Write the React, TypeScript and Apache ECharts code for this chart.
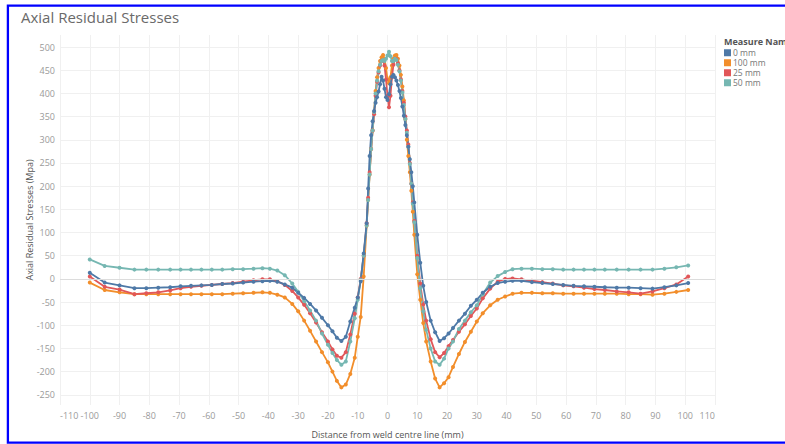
import { useEffect, useRef } from "react";
import * as echarts from "echarts";

const FONT = "'Open Sans', 'Noto Sans', sans-serif";

const X = [
  -100, -95, -90, -85, -81, -77, -73, -69.5, -66, -62.5, -59, -55.5, -52, -48.5, -45, -42, -39.5, -37, -34.5, -32, -30, -28, -26, -24, -22, -20, -18.5, -17, -15.5, -14, -12.5, -11, -10, -9, -8,
  -7, -6.5, -6, -5.5, -5, -4.5, -4, -3.5, -3, -2.5, -2, -1.5, -1, -0.5, 0, 0.5, 1, 1.5, 2, 2.5, 3, 3.5, 4, 4.5, 5, 5.5, 6, 6.5, 7, 7.5, 8, 8.5, 9,
  10, 11, 12, 13, 14.5, 16, 17.5, 19, 20.5, 22, 24, 26, 28, 30, 32, 34.5, 37, 39.5, 42, 45, 48.5, 52, 55.5, 59, 62.5, 66, 69.5, 73, 77, 81, 85, 89, 93, 97, 101,
];

const MM0 = [
  13, -8, -14, -20, -20, -19, -18, -16, -15, -14, -13, -11, -10, -8, -6, -5, -4, -6, -12, -19, -30, -41, -54, -68, -84, -100, -113, -127, -134, -125, -92, -62, -40, -5, 55,
  120, 195, 265, 310, 340, 362, 380, 392, 404, 420, 436, 428, 410, 392, 386, 398, 420, 436, 440, 435, 428, 418, 405, 390, 372, 352, 332, 310, 285, 258, 230, 200, 165,
  95, 35, -15, -50, -90, -115, -134, -128, -118, -106, -90, -75, -58, -45, -30, -17, -9, -6, -4, -4, -7, -9, -11, -13, -15, -16, -17, -18, -19, -19, -20, -21, -18, -14, -9,
];

const MM100 = [
  -8, -24, -29, -33, -33, -33, -33, -33, -33, -33, -33, -33, -32, -31, -30, -29, -30, -34, -40, -54, -70, -90, -112, -135, -158, -180, -200, -220, -234, -228, -205, -170, -125, -82, 5,
  115, 170, 225, 280, 320, 360, 405, 435, 455, 470, 478, 483, 475, 455, 430, 422, 435, 460, 475, 482, 483, 475, 460, 440, 415, 385, 345, 300, 265, 230, 190, 145, 95,
  10, -45, -95, -135, -178, -215, -234, -225, -212, -190, -162, -136, -114, -92, -74, -57, -45, -38, -32, -30, -30, -31, -31, -32, -32, -32, -32, -32, -32, -33, -33, -34, -32, -28, -24,
];

const MM25 = [
  5, -17, -23, -33, -31, -29, -25, -20, -17, -15, -13, -11, -9, -6, -3, -1, -1, -5, -13, -26, -40, -56, -74, -94, -115, -135, -152, -166, -170, -158, -120, -75, -40, 0, 50,
  120, 175, 230, 280, 320, 355, 395, 425, 445, 460, 470, 472, 460, 430, 395, 370, 395, 435, 462, 475, 474, 465, 450, 430, 405, 380, 350, 320, 290, 250, 205, 165, 125,
  50, -10, -55, -90, -130, -158, -169, -160, -145, -132, -114, -98, -80, -64, -42, -21, -6, 0, 1, -1, -4, -7, -10, -14, -16, -19, -22, -24, -27, -29, -32, -27, -20, -12, 5,
];

const MM50 = [
  42, 28, 24, 20, 20, 20, 20, 20, 20, 20, 20, 20, 21, 21, 22, 23, 22, 18, 8, -10, -28, -48, -68, -90, -118, -142, -160, -175, -185, -178, -135, -85, -45, -2, 50,
  115, 170, 225, 280, 320, 360, 400, 428, 448, 462, 470, 472, 470, 475, 482, 490, 480, 470, 470, 475, 472, 462, 448, 428, 402, 375, 345, 315, 285, 248, 205, 162, 122,
  45, -20, -70, -110, -150, -178, -185, -172, -150, -135, -108, -90, -72, -57, -33, -8, 6, 15, 21, 22, 22, 21, 21, 20, 20, 20, 20, 20, 20, 20, 20, 20, 22, 25, 29,
];

const LEGEND_ORDER = ["0 mm", "100 mm", "25 mm", "50 mm"];
const COLORS: Record<string, string> = {
  "0 mm": "#4e79a7",
  "100 mm": "#f28e2b",
  "25 mm": "#e15759",
  "50 mm": "#76b7b2",
};
// drawing order (last on top)
const DRAW: [string, number[]][] = [
  ["100 mm", MM100],
  ["25 mm", MM25],
  ["50 mm", MM50],
  ["0 mm", MM0],
];

const X_MIN = -110;
const X_MAX = 110;
const X_STEP = 10;
const Y_MIN = -272;
const Y_MAX = 526;
const Y_STEP = 50;

export default function App() {
  const ref = useRef<HTMLDivElement>(null);
  useEffect(() => {
    if (!ref.current) return;
    const chart = echarts.init(ref.current, null, { renderer: "svg" });
    const series = DRAW.map(([name, ys], idx) => ({
      name,
      type: "line",
      data: X.map((x, i) => [x, ys[i]]),
      symbol: "circle",
      symbolSize: 4,
      showSymbol: true,
      lineStyle: { width: 1.8, color: COLORS[name] },
      itemStyle: { color: COLORS[name] },
      color: COLORS[name],
      emphasis: { disabled: true },
      ...(idx === 0
        ? {
            markLine: {
              silent: true,
              symbol: ["none", "none"],
              label: { show: false },
              lineStyle: { color: "#dcdcdc", type: "solid", width: 1 },
              data: [{ yAxis: 0 }],
            },
          }
        : {}),
    }));
    chart.setOption({
      animation: false,
      backgroundColor: "#ffffff",
      textStyle: { fontFamily: FONT },
      title: {
        text: "Axial Residual Stresses",
        left: 21,
        top: 9,
        padding: 0,
        textStyle: { fontSize: 15, fontWeight: "normal", color: "#6a6a6a", fontFamily: FONT },
      },
      legend: {
        data: LEGEND_ORDER,
        orient: "vertical",
        left: 724,
        top: 48,
        padding: 0,
        itemWidth: 7,
        itemHeight: 7,
        itemGap: 0.5,
        icon: "rect",
        selectedMode: false,
        textStyle: { fontSize: 8.5, color: "#777", lineHeight: 9.5, fontFamily: FONT, padding: [0, 0, 0, -3] },
      },
      grid: { left: 60, right: 70, top: 35, bottom: 37 },
      xAxis: {
        type: "value",
        min: X_MIN,
        max: X_MAX,
        interval: X_STEP,
        name: "Distance from weld centre line (mm)",
        nameLocation: "middle",
        nameGap: 25,
        nameMoveOverlap: false,
        nameTextStyle: { fontSize: 9, color: "#555", fontFamily: FONT },
        axisLine: { show: false },
        axisTick: { show: false },
        axisLabel: { fontSize: 9, color: "#9a9a9a", margin: 6, alignMinLabel: "left", alignMaxLabel: "right", fontFamily: FONT },
        splitLine: { show: true, lineStyle: { color: "#f0f0f0", width: 1 } },
      },
      yAxis: {
        type: "value",
        min: Y_MIN,
        max: Y_MAX,
        splitNumber: 16,
        minInterval: Y_STEP,
        maxInterval: Y_STEP,
        name: "Axial Residual Stresses (Mpa)",
        nameLocation: "middle",
        nameGap: 26,
        nameMoveOverlap: false,
        nameTextStyle: { fontSize: 9, color: "#555", fontFamily: FONT },
        axisLine: { show: false },
        axisTick: { show: false },
        axisLabel: {
          fontSize: 9,
          color: "#9a9a9a",
          margin: 5,
          fontFamily: FONT,
          formatter: (v: number) => (Math.round(v) % Y_STEP === 0 ? String(v) : ""),
        },
        splitLine: { show: true, showMinLine: false, showMaxLine: false, lineStyle: { color: "#f0f0f0", width: 1 } },
      },
      graphic: [
        {
          type: "text",
          left: 724,
          top: 37,
          style: { text: "Measure Names", fontSize: 9, fontWeight: "bold", fill: "#555", fontFamily: FONT },
          z: 10,
        },
        {
          type: "rect",
          shape: { x: 7.9, y: 5.7, width: 820, height: 437 },
          style: { fill: "none", stroke: "#0000ff", lineWidth: 2.3 },
          silent: true,
          z: 100,
        },
      ],
      series,
    });
    return () => chart.dispose();
  }, []);
  return (
    <div
      ref={ref}
      style={{ position: "fixed", left: 0, top: 0, width: 785, height: 444, background: "#fff" }}
    />
  );
}
